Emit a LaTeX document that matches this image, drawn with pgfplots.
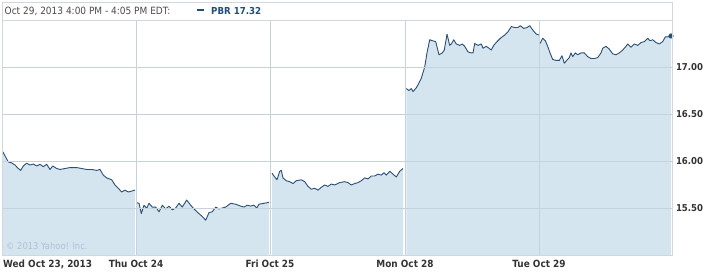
\documentclass[border=0pt]{standalone}
\usepackage{pgfplots}
\pgfplotsset{compat=1.18}
\usepackage{pgfplotstable}
\usepackage{fontspec}
\setmainfont{DejaVu Sans Condensed}
\definecolor{linec}{HTML}{2A4E72}
\definecolor{fillc}{HTML}{D5E5F0}
\definecolor{gridc}{HTML}{C6D2DB}
\definecolor{framec}{HTML}{D0D7DD}
\definecolor{labc}{HTML}{333333}
\definecolor{hdrc}{HTML}{4A4A4A}
\definecolor{pbrc}{HTML}{1F4E7A}
\definecolor{copyc}{HTML}{AFC2D1}

% x = horizontal position (day d spans 134 units), y = price
\pgfplotstableread{
x y
2.7 16.10
8.3 15.99
11.7 15.98
15 15.957
18.3 15.92
20.7 15.90
23.3 15.947
26.7 15.976
30 15.957
33.3 15.968
36.7 15.947
40 15.965
43.3 15.94
46.7 15.965
50 15.91
52.7 15.947
56.7 15.92
60 15.91
65 15.92
70 15.93
76.7 15.93
81.7 15.92
86.7 15.91
91.7 15.91
96.7 15.90
100 15.91
103.3 15.85
106.7 15.82
111.7 15.80
115 15.745
118.3 15.71
121.7 15.67
125 15.69
128.3 15.67
131.7 15.68
135 15.69
}\dA
\pgfplotstableread{
x y
136.7 15.556
139 15.55
141.3 15.44
144 15.53
146.7 15.497
149 15.55
152.3 15.51
155.7 15.51
159 15.46
162.3 15.53
165.7 15.49
169 15.52
172.3 15.48
175.7 15.50
179 15.55
182.3 15.51
186.7 15.585
190.7 15.53
194 15.49
199 15.44
202.3 15.41
205.7 15.37
209 15.45
212.3 15.46
215.7 15.51
219 15.49
222.3 15.50
225.7 15.51
230.7 15.55
235.7 15.54
240.7 15.52
244 15.51
247.3 15.53
250.7 15.52
254 15.53
256.7 15.50
259 15.54
264 15.55
269 15.56
}\dB
\pgfplotstableread{
x y
272 15.87
274.7 15.83
277 15.80
279.7 15.89
281.3 15.90
283 15.82
286.3 15.79
289.7 15.78
293 15.76
296.3 15.79
301.3 15.80
304.7 15.78
308 15.73
311.3 15.70
314.7 15.71
318 15.69
321.3 15.72
324.7 15.745
328 15.73
331.3 15.755
334.7 15.745
339.7 15.77
344.7 15.78
348 15.77
351.3 15.745
354.7 15.76
358 15.77
361.3 15.79
364.7 15.82
368 15.81
371.3 15.84
374.7 15.84
378 15.86
381.3 15.85
384 15.875
386.3 15.85
389.7 15.89
393 15.86
396.3 15.83
399.7 15.89
403 15.92
}\dC
\pgfplotstableread{
x y
406.3 16.77
409 16.75
411.3 16.77
413 16.74
415.7 16.77
418 16.81
421.3 16.88
424.7 17.00
427 17.15
429.7 17.29
432.3 17.28
435.7 17.27
439 17.13
442.3 17.15
444.3 17.18
447 17.35
449.7 17.23
451.7 17.25
453.7 17.29
456.3 17.245
459.7 17.23
462.3 17.245
464.7 17.22
468 17.16
471.3 17.15
473 17.15
474.7 17.25
478 17.23
481.3 17.245
483 17.20
486.3 17.22
489 17.20
491.3 17.18
493.7 17.23
497 17.27
500.3 17.305
504.7 17.34
508 17.375
511.3 17.43
514.7 17.42
518 17.42
520.3 17.44
523.7 17.41
527 17.42
529.7 17.44
533 17.39
536.3 17.35
539 17.34
}\dD
\pgfplotstableread{
x y
540 17.25
542.7 17.305
545.3 17.28
547.7 17.22
550 17.15
552.7 17.08
556 17.07
559.3 17.07
562 17.12
564.3 17.04
566.7 17.07
569.3 17.10
571 17.15
572.7 17.11
575.3 17.15
577.7 17.13
581 17.15
584.3 17.15
587.7 17.11
591 17.09
594.3 17.09
597.7 17.10
601 17.15
602.7 17.20
606 17.22
609.3 17.19
612.7 17.14
616 17.13
619.3 17.15
622.7 17.18
626 17.22
627.7 17.245
631 17.21
634.3 17.245
637.7 17.23
641 17.26
644.3 17.27
647.7 17.305
650 17.28
652.7 17.29
656 17.26
659.3 17.245
662.7 17.27
665.3 17.32
667.7 17.32
671 17.33
}\dE

\begin{document}
\begin{tikzpicture}[x=1pt,y=1pt]
\path[use as bounding box] (0,0) rectangle (707,272);
% header box
\draw[framec, line width=0.8pt] (2,252) rectangle (672,270);
\node[anchor=base west, inner sep=0pt, text=hdrc, font=\fontsize{10}{10}\selectfont] at (4.5,257.3) {Oct 29, 2013 4:00 PM - 4:05 PM EDT:};
\fill[pbrc] (197,260.5) rectangle (204,263);
\node[anchor=base west, inner sep=0pt, text=pbrc, font=\bfseries\fontsize{9.6}{9.6}\selectfont] at (211,257.3) {PBR 17.32};
\begin{axis}[
  at={(2pt,17pt)}, anchor=south west,
  scale only axis, width=670pt, height=235pt,
  xmin=2, xmax=672, ymin=15, ymax=17.5,
  axis on top, clip mode=individual,
  axis line style={framec, line width=0.8pt},
  major tick length=0pt,
  xtick={136,270,405,539}, xticklabels={},
  ytick={15.5,16,16.5,17},
  yticklabels={15.50,16.00,16.50,17.00},
  yticklabel pos=right,
  yticklabel style={font=\bfseries\fontsize{9.5}{9.5}\selectfont, text=labc, xshift=0.5pt},
  xmajorgrids, ymajorgrids,
  grid style={gridc, line width=0.8pt},
]
\addplot[draw=none, fill=fillc] table[x=x,y=y] {\dA} |- (axis cs:2.7,15) -- cycle;
\addplot[draw=none, fill=fillc] table[x=x,y=y] {\dB} |- (axis cs:136.7,15) -- cycle;
\addplot[draw=none, fill=fillc] table[x=x,y=y] {\dC} |- (axis cs:272,15) -- cycle;
\addplot[draw=none, fill=fillc] table[x=x,y=y] {\dD} |- (axis cs:406.3,15) -- cycle;
\addplot[draw=none, fill=fillc] table[x=x,y=y] {\dE} |- (axis cs:540,15) -- cycle;
\addplot[linec, line width=0.9pt, line join=round] table[x=x,y=y] {\dA};
\addplot[linec, line width=0.9pt, line join=round] table[x=x,y=y] {\dB};
\addplot[linec, line width=0.9pt, line join=round] table[x=x,y=y] {\dC};
\addplot[linec, line width=0.9pt, line join=round] table[x=x,y=y] {\dD};
\addplot[linec, line width=0.9pt, line join=round] table[x=x,y=y] {\dE};
\addplot[only marks, mark=*, mark size=2.3pt, linec] coordinates {(671,17.33)};
\node[anchor=base west, inner sep=0pt, text=copyc, font=\fontsize{9.3}{9.3}\selectfont] at (axis cs:6,15) [yshift=5pt] {© 2013 Yahoo! Inc.};
\node[anchor=base west, inner sep=0pt, text=labc, font=\bfseries\fontsize{9.9}{9.9}\selectfont] at (axis cs:3,15) [yshift=-12.5pt] {Wed Oct 23, 2013};
\node[anchor=base, inner sep=0pt, text=labc, font=\bfseries\fontsize{9.9}{9.9}\selectfont] at (axis cs:136,15) [yshift=-12.5pt] {Thu Oct 24};
\node[anchor=base, inner sep=0pt, text=labc, font=\bfseries\fontsize{9.9}{9.9}\selectfont] at (axis cs:270,15) [yshift=-12.5pt] {Fri Oct 25};
\node[anchor=base, inner sep=0pt, text=labc, font=\bfseries\fontsize{9.9}{9.9}\selectfont] at (axis cs:405,15) [yshift=-12.5pt] {Mon Oct 28};
\node[anchor=base, inner sep=0pt, text=labc, font=\bfseries\fontsize{9.9}{9.9}\selectfont] at (axis cs:539,15) [yshift=-12.5pt] {Tue Oct 29};
\end{axis}
\end{tikzpicture}
\end{document}
